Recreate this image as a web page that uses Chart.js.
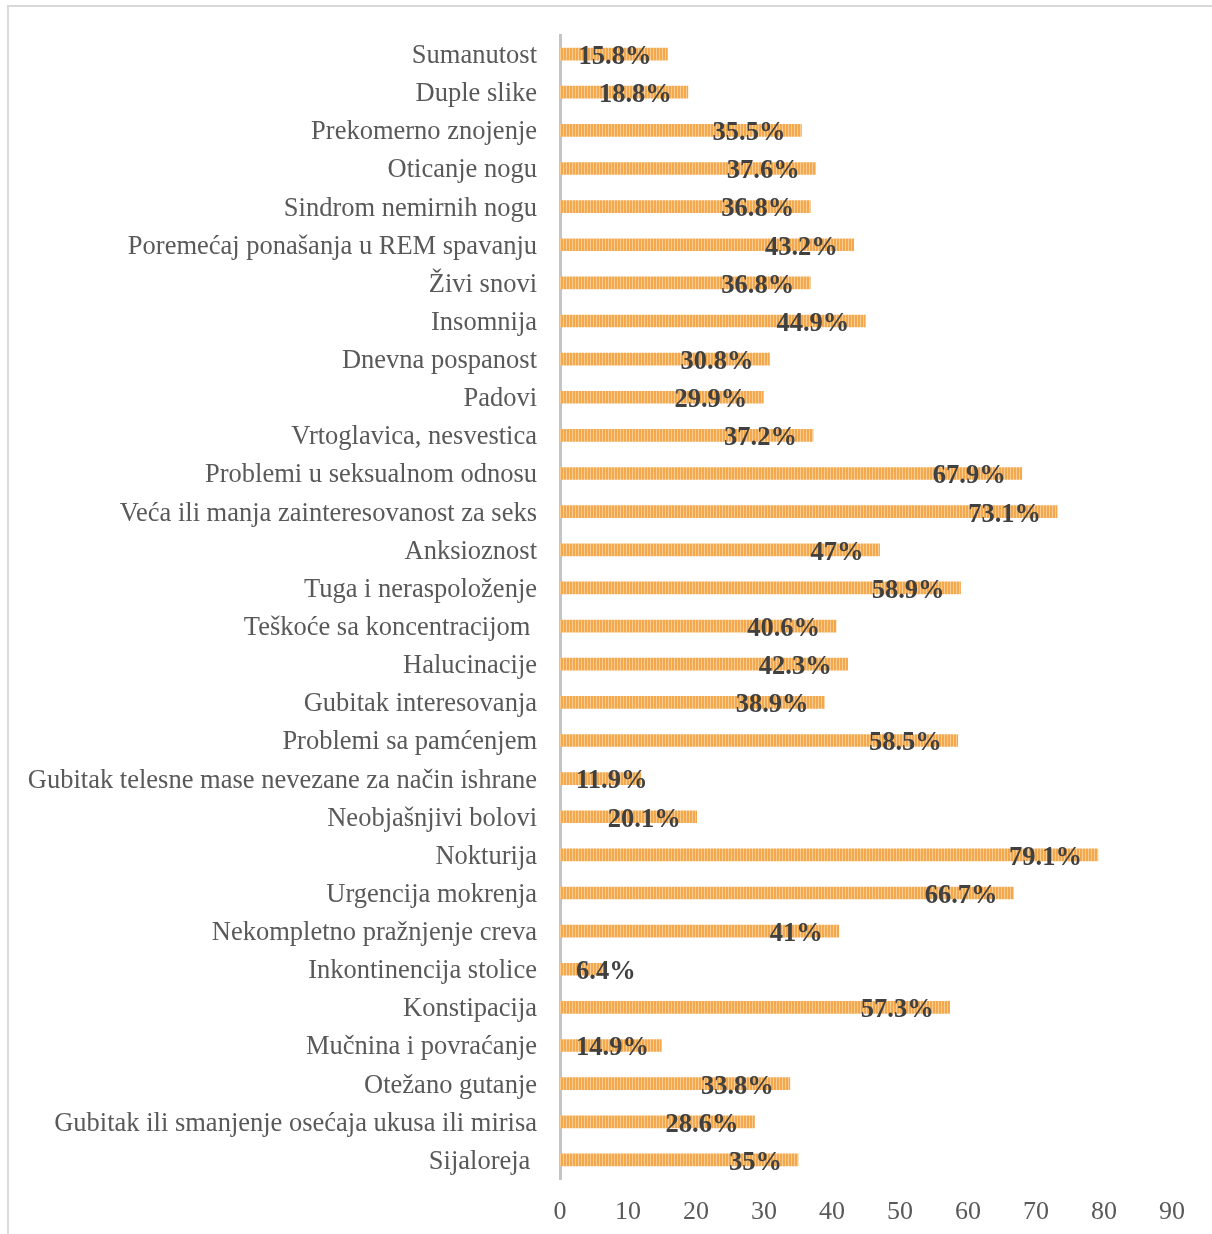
<!DOCTYPE html>
<html>
<head>
<meta charset="utf-8">
<script src="https://cdn.jsdelivr.net/npm/chart.js@4.4.1/dist/chart.umd.min.js"></script>
<style>
  html, body { margin: 0; padding: 0; background: #fff; }
  #wrap { position: relative; width: 1212px; height: 1234px; overflow: hidden; }
  #frame { position: absolute; left: 7px; top: 5px; width: 1300px; height: 1300px; border-left: 2px solid #D9D9D9; border-top: 2px solid #D9D9D9; }
  #c { position: absolute; left: 0; top: 0; }
</style>
</head>
<body>
<div id="wrap">
  <div id="frame"></div>
  <canvas id="c" width="1212" height="1234"></canvas>
</div>
<script>
const categories = [
  "Sumanutost",
  "Duple slike",
  "Prekomerno znojenje",
  "Oticanje nogu",
  "Sindrom nemirnih nogu",
  "Poremećaj ponašanja u REM spavanju",
  "Živi snovi",
  "Insomnija",
  "Dnevna pospanost",
  "Padovi",
  "Vrtoglavica, nesvestica",
  "Problemi u seksualnom odnosu",
  "Veća ili manja zainteresovanost za seks",
  "Anksioznost",
  "Tuga i neraspoloženje",
  "Teškoće sa koncentracijom ",
  "Halucinacije",
  "Gubitak interesovanja",
  "Problemi sa pamćenjem",
  "Gubitak telesne mase nevezane za način ishrane",
  "Neobjašnjivi bolovi",
  "Nokturija",
  "Urgencija mokrenja",
  "Nekompletno pražnjenje creva",
  "Inkontinencija stolice",
  "Konstipacija",
  "Mučnina i povraćanje",
  "Otežano gutanje",
  "Gubitak ili smanjenje osećaja ukusa ili mirisa",
  "Sijaloreja "
];
const values = [
  15.8, 18.8, 35.5, 37.6, 36.8, 43.2, 36.8, 44.9, 30.8, 29.9,
  37.2, 67.9, 73.1, 47, 58.9, 40.6, 42.3, 38.9, 58.5, 11.9,
  20.1, 79.1, 66.7, 41, 6.4, 57.3, 14.9, 33.8, 28.6, 35
];
const xTicks = [0, 10, 20, 30, 40, 50, 60, 70, 80, 90];

// striped orange fill
const pc = document.createElement('canvas');
pc.width = 3; pc.height = 4;
const pctx = pc.getContext('2d');
pctx.fillStyle = '#F4A84E';
pctx.fillRect(0, 0, 3, 4);
pctx.fillStyle = '#F9CC92';
pctx.fillRect(2, 0, 1, 4);
const ctx = document.getElementById('c').getContext('2d');
const stripe = ctx.createPattern(pc, 'repeat');

const serif = '"Liberation Serif", "Times New Roman", serif';

const labelPlugin = {
  id: 'barLabels',
  afterDatasetsDraw(chart) {
    const c = chart.ctx;
    const meta = chart.getDatasetMeta(0);
    const x0 = chart.scales.x.getPixelForValue(0);
    c.save();
    c.font = 'bold 26.5px ' + serif;
    c.fillStyle = '#404040';
    c.textAlign = 'left';
    c.textBaseline = 'middle';
    meta.data.forEach((bar, i) => {
      const txt = values[i] + '%';
      const w = c.measureText(txt).width;
      let left = bar.x - 16 - w;
      if (left < x0 + 16) left = x0 + 16;
      c.fillText(txt, left, bar.y + 3);
    });
    c.restore();
  }
};

new Chart(ctx, {
  type: 'bar',
  data: {
    labels: categories,
    datasets: [{
      data: values,
      backgroundColor: stripe,
      borderWidth: 0,
      barThickness: 12
    }]
  },
  options: {
    indexAxis: 'y',
    responsive: false,
    animation: false,
    events: [],
    layout: { padding: { top: 35, right: 40, bottom: 0, left: 0 } },
    plugins: { legend: { display: false }, tooltip: { enabled: false } },
    scales: {
      x: {
        min: 0, max: 90,
        afterBuildTicks(scale) { scale.ticks = xTicks.map(v => ({ value: v })); },
        grid: { display: false, drawTicks: false },
        border: { display: false },
        ticks: {
          color: '#595959',
          font: { family: serif, size: 26 },
          padding: 18,
          maxRotation: 0,
          autoSkip: false
        },
        afterFit(scale) { scale.height = 55; scale.paddingLeft = 0; scale.paddingRight = 0; }
      },
      y: {
        grid: { display: false, drawTicks: false },
        border: { display: true, color: '#C4C4C4', width: 3 },
        ticks: {
          color: '#595959',
          font: { family: serif, size: 26.5 },
          padding: 23,
          labelOffset: 2,
          autoSkip: false
        },
        afterFit(scale) { scale.width = 560; scale.paddingTop = 0; scale.paddingBottom = 0; }
      }
    }
  },
  plugins: [labelPlugin]
});
</script>
</body>
</html>
